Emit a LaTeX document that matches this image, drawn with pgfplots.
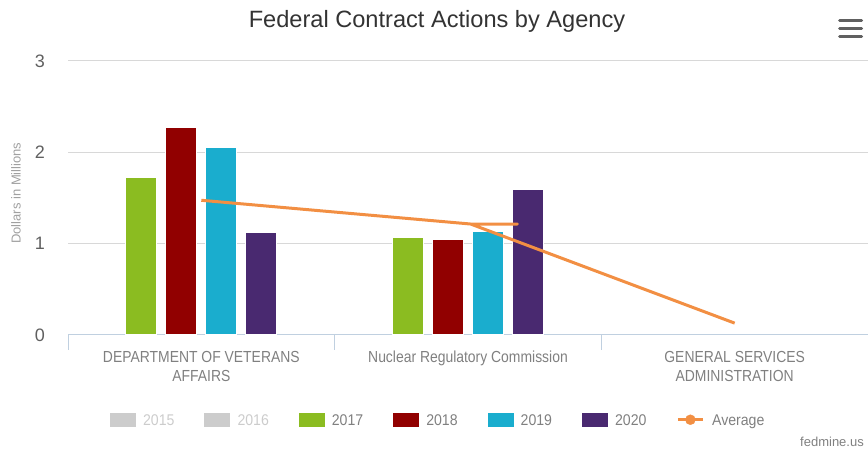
\documentclass[border=0pt]{standalone}
\usepackage{fontspec}
\setmainfont{Liberation Sans}
\newfontfamily\condfont{Liberation Sans}[FakeStretch=0.87]
\newfontfamily\legfont{Liberation Sans}[FakeStretch=0.91]
\usepackage{pgfplots}
\pgfplotsset{compat=1.18}
\definecolor{chid}{HTML}{CCCCCC}
\definecolor{c17}{HTML}{8BBC21}
\definecolor{c18}{HTML}{910000}
\definecolor{c19}{HTML}{1AADCE}
\definecolor{c20}{HTML}{492970}
\definecolor{cavg}{HTML}{F28F43}
\definecolor{gridc}{HTML}{D8D8D8}
\definecolor{axisc}{HTML}{C0D0E0}
\definecolor{tickc}{HTML}{606060}
\definecolor{labc}{HTML}{808080}
\definecolor{ylabc}{HTML}{A0A0A0}
\definecolor{titc}{HTML}{333333}
\pgfplotsset{
  sq/.style={legend image code/.code={\fill[#1] (0bp,-1.4bp) rectangle (25bp,12bp);}},
  mybar/.style={ybar, bar width=31bp, bar shift=#1, draw=white, line width=1bp, forget plot},
}
\begin{document}
\begin{tikzpicture}
\path[use as bounding box] (0,0) rectangle (868bp,452bp);
\begin{axis}[
  at={(68bp,117bp)}, anchor=south west,
  scale only axis, width=800bp, height=274bp,
  xmin=-0.5, xmax=2.5, ymin=0, ymax=3,
  axis x line*=bottom, axis y line*=left,
  x axis line style={draw=axisc, line width=1bp},
  y axis line style={draw=none},
  ytick={0,1,2,3},
  /pgf/number format/assume math mode=true,
  ymajorgrids, grid style={draw=gridc, line width=1bp},
  xtick={0,1,2},
  xticklabels={{DEPARTMENT OF VETERANS\\AFFAIRS},{Nuclear Regulatory Commission},{GENERAL SERVICES\\ADMINISTRATION}},
  minor xtick={-0.5,0.5,1.5,2.5},
  major tick length=0pt, minor tick length=15bp,
  tick align=outside,
  minor tick style={draw=axisc, line width=1bp},
  xticklabel style={font=\condfont\fontsize{16bp}{19bp}\selectfont, text=labc, align=center, anchor=north, inner sep=0pt, yshift=-16bp},
  yticklabel style={font=\fontsize{18bp}{20bp}\selectfont, text=tickc, anchor=east, inner sep=0pt, xshift=-23bp},
  ylabel={Dollars in Millions},
  ylabel style={font=\fontsize{13bp}{15bp}\selectfont, text=ylabc, at={(axis description cs:-0.065,0.518)}, anchor=center},
  legend columns=7,
  legend style={draw=none, fill=none, at={(axis description cs:0.0525,-0.31)}, anchor=west, inner sep=0pt, outer sep=0pt, column sep=7.7bp, row sep=0pt,
     nodes={inner sep=0pt, text width=53.6bp, align=left, anchor=base west, font=\legfont\fontsize{15.5bp}{17bp}\selectfont, text=labc}},
]
\addlegendimage{sq=chid}\addlegendentry{\textcolor{chid}{2015}}
\addlegendimage{sq=chid}\addlegendentry{\textcolor{chid}{2016}}
\addlegendimage{sq=c17}\addlegendentry{2017}
\addlegendimage{sq=c18}\addlegendentry{2018}
\addlegendimage{sq=c19}\addlegendentry{2019}
\addlegendimage{sq=c20}\addlegendentry{2020}
\addlegendimage{legend image code/.code={\draw[cavg, line width=3bp] (0bp,5.5bp)--(25bp,5.5bp); \fill[cavg] (12.5bp,5.5bp) circle (5bp);}}\addlegendentry{Average}

\addplot[mybar=-60bp, fill=c17] coordinates {(0,1.72) (1,1.07)};
\addplot[mybar=-20bp, fill=c18] coordinates {(0,2.27) (1,1.05)};
\addplot[mybar=20bp, fill=c19] coordinates {(0,2.05) (1,1.13)};
\addplot[mybar=60bp, fill=c20] coordinates {(0,1.12) (1,1.59)};
\addplot[cavg, line width=3bp, line join=round, forget plot] coordinates {(0,1.475) (1.01,1.215) (1.185,1.215) (1.01,1.215) (2.0,0.13)};
\end{axis}
\node[anchor=base, font=\fontsize{23.6bp}{26bp}\selectfont, text=titc] at (437bp,424bp) {Federal Contract Actions by Agency};
\foreach \yy in {431,423,415.3} \draw[line width=3bp, line cap=round, color=tickc] (839.5bp,\yy bp)--(861.5bp,\yy bp);
\node[anchor=base east, font=\fontsize{13bp}{15bp}\selectfont, text=labc, inner sep=0pt] at (864bp,6bp) {fedmine.us};
\end{tikzpicture}
\end{document}
